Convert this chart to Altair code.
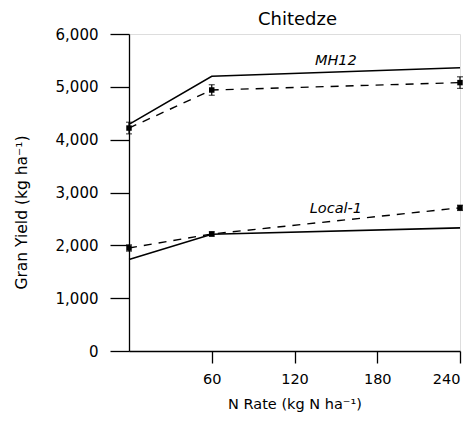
import altair as alt
import pandas as pd

# N rates (kg N/ha)
n_rate = [0, 60, 240]
# observed means (dashed) and standard errors
mh12_obs = [4220, 4940, 5080]
mh12_err = [110, 100, 110]
local_obs = [1950, 2215, 2710]
local_err = [60, 40, 50]
# fitted response (solid)
mh12_fit = [4290, 5200, 5360]
local_fit = [1730, 2210, 2330]

x_ticks = [60, 120, 180, 240]
y_ticks = [0, 1000, 2000, 3000, 4000, 5000, 6000]

labels = ["MH12", "Local-1"]
label_x = [150, 150]
label_y = [5490, 2680]

rows = []
for name, obs, err, fit in [("MH12", mh12_obs, mh12_err, mh12_fit),
                            ("Local-1", local_obs, local_err, local_fit)]:
    for x, o, e, f in zip(n_rate, obs, err, fit):
        rows.append({"series": name, "n": x, "obs": o, "lo": o - e, "hi": o + e, "fit": f})
df = pd.DataFrame(rows)
lab = pd.DataFrame({"label": labels, "x": label_x, "y": label_y})

FONT = "DejaVu Sans"
xs = alt.Scale(domain=[0, 240], nice=False, zero=True)
ys = alt.Scale(domain=[0, 6000], nice=False)

xaxis = alt.Axis(
    values=x_ticks, title="N Rate (kg N ha⁻¹)", grid=False, tickSize=12,
    labelPadding=9, titlePadding=12, domainColor="black", tickColor="black",
    labelColor="black", titleColor="black", labelFont=FONT, titleFont=FONT,
    labelFontSize=14.5, titleFontSize=14.5, titleFontWeight="normal", tickWidth=1.3, domainWidth=1.3)
yaxis = alt.Axis(
    values=y_ticks, format=",.0f", title="Gran Yield (kg ha⁻¹)", grid=False,
    tickSize=19, labelPadding=12, domainColor="black",
    tickColor="black", labelColor="black", titleColor="black",
    labelFont=FONT, titleFont=FONT, labelFontSize=15, titleFontSize=15.5,
    titleFontWeight="normal", tickWidth=1.3, domainWidth=1.3,
    titleX=-108, titleY=178, titleBaseline="middle", titleAlign="center", titleAngle=270)

base = alt.Chart(df)

fit = base.mark_line(color="black", strokeWidth=1.6).encode(
    x=alt.X("n:Q", scale=xs, axis=xaxis),
    y=alt.Y("fit:Q", scale=ys, axis=yaxis),
    detail="series:N")

obs = base.mark_line(color="black", strokeWidth=1.4, strokeDash=[8, 7]).encode(
    x=alt.X("n:Q", scale=xs, axis=xaxis),
    y=alt.Y("obs:Q", scale=ys, axis=yaxis), detail="series:N")

pts = base.mark_square(color="black", size=30, opacity=1).encode(
    x=alt.X("n:Q", scale=xs, axis=xaxis),
    y=alt.Y("obs:Q", scale=ys, axis=yaxis))

err = base.mark_errorbar(ticks=alt.TickConfig(size=6, color="black", thickness=1.2),
                         color="black", thickness=1.2).encode(
    x=alt.X("n:Q", scale=xs, axis=xaxis),
    y=alt.Y("lo:Q", scale=ys, axis=yaxis), y2="hi:Q")

txt = alt.Chart(lab).mark_text(font=FONT, fontSize=14.5, fontStyle="italic", color="black").encode(
    x=alt.X("x:Q", scale=xs, axis=xaxis),
    y=alt.Y("y:Q", scale=ys, axis=yaxis), text="label:N")

chart = alt.layer(fit, obs, err, pts, txt).properties(
    width=331, height=317,
    title=alt.TitleParams("Chitedze", font=FONT, fontSize=18, fontWeight="normal",
                          color="black", dx=3, offset=-2),
    autosize=alt.AutoSizeParams(type="none"),
    padding={"left": 121, "top": 26, "right": 4, "bottom": 62},
).configure_view(stroke="black", strokeWidth=1.3).configure(background="white")

chart.save("out.html", embed_options={"renderer": "svg", "actions": False})
